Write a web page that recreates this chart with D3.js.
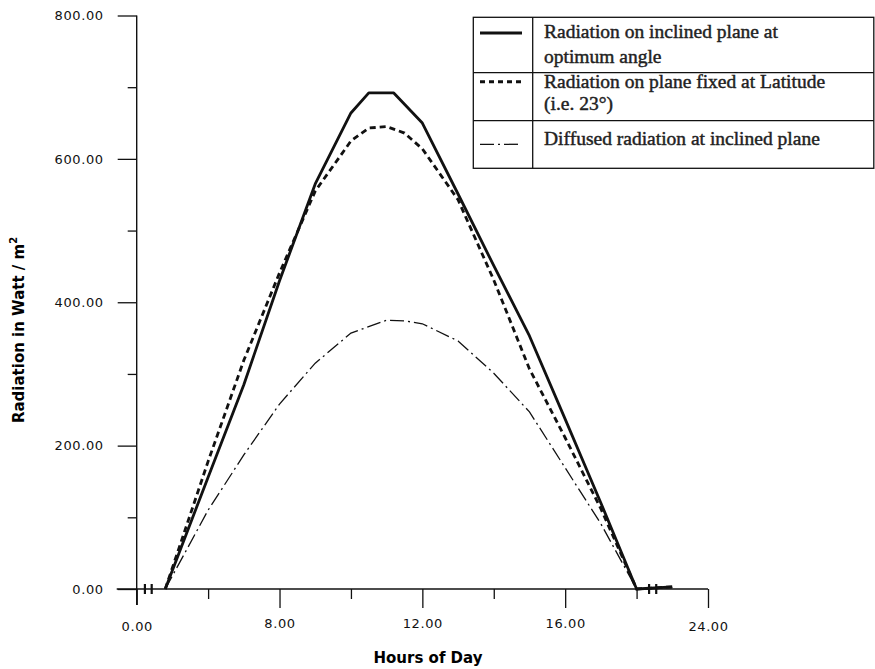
<!DOCTYPE html>
<html>
<head>
<meta charset="utf-8">
<script src="https://cdn.jsdelivr.net/npm/d3@7"></script>
<style>
  body{margin:0;background:#fff;}
  svg{display:block;}
  .tick text{font-family:"DejaVu Sans",sans-serif;font-size:13px;letter-spacing:0.6px;fill:#111;}
</style>
</head>
<body>
<div id="chart"></div>
<script>
"use strict"

// hours on the (broken) time axis, and the three series in W/m2
const hoursOptimum=[4.8,6,7,8,9,10,10.5,11.2,12,13,14,15,16,17,18,19];
const optimumAngle=[0,156,285,430,565,664,692,692,650,551,451,353,237,120,0,3];

const hoursLatitude=[4.8,6,7,8,9,10,10.5,11,11.5,12,13,14,15,16,17,18,19];
const fixedLatitude=[0,178,319,441,555,625,643,645,636,614,543,431,307,211,112,0,3];

const hoursDiffused=[4.8,6,7,8,9,10,11,11.5,12,13,14,15,16,17,18,19];
const diffusedRad=[0,110,187,258,315,357,375,374,370,346,301,247,169,91,0,2];

const xTicks=[4,6,8,10,12,14,16,18,20];
const xTickLabels={4:"0.00",8:"8.00",12:"12.00",16:"16.00",20:"24.00"};
const yTicks=[0,100,200,300,400,500,600,700,800];

const legendRows=[
  {lines:["Radiation on inclined plane at","optimum angle"],dash:null,width:3},
  {lines:["Radiation on plane fixed  at Latitude","(i.e. 23°)"],dash:"5,4",width:3},
  {lines:["Diffused radiation at inclined plane"],dash:"14,4,2,4",width:1.3}
];

const W=875,H=669;
const svg=d3.select("#chart").append("svg").attr("width",W).attr("height",H);

var x=d3.scaleLinear().domain([4,20]).range([136.7,708]);
var y=d3.scaleLinear().domain([0,800]).range([589,15.5]);

// y axis
var yAxis=svg.append("g").attr("transform","translate("+x(4)+",0)")
  .call(d3.axisLeft(y).tickValues(yTicks).tickSizeOuter(0).tickPadding(14)
    .tickFormat(d=>d%200===0?d3.format(".2f")(d):""));
yAxis.select(".domain").remove();
yAxis.selectAll(".tick line").attr("x2",d=>d%200===0?-19:-9).attr("stroke","#111").attr("stroke-width",1.3);
yAxis.selectAll(".tick text").attr("x",-33);

// x axis
var xAxis=svg.append("g").attr("transform","translate(0,"+y(0)+")")
  .call(d3.axisBottom(x).tickValues(xTicks).tickSizeOuter(0)
    .tickFormat(d=>xTickLabels[d]||""));
xAxis.select(".domain").remove();
xAxis.selectAll(".tick line").attr("y2",d=>d===4?16:(d%4===0?19:10)).attr("stroke","#111").attr("stroke-width",1.3);
xAxis.selectAll(".tick text").attr("y",d=>(d===4||d===20)?33:30);

// axis lines, y line runs a bit below zero and x line a bit left of the y axis
svg.append("line").attr("x1",x(4)).attr("x2",x(4)).attr("y1",y(800)).attr("y2",y(0)+16)
  .attr("stroke","#111").attr("stroke-width",1.4);
svg.append("line").attr("x1",x(4)-20).attr("x2",x(20)).attr("y1",y(0)).attr("y2",y(0))
  .attr("stroke","#111").attr("stroke-width",1.4);

// axis break marks
[4.23,4.42,18.35,18.55].forEach(function(h){
  svg.append("line").attr("x1",x(h)).attr("x2",x(h)).attr("y1",y(0)-5).attr("y2",y(0)+5)
    .attr("stroke","#111").attr("stroke-width",2.2);
});

// series
var line=d3.line().x(d=>x(d[0])).y(d=>y(d[1]));

svg.append("path").datum(d3.zip(hoursDiffused,diffusedRad))
  .attr("d",line).attr("fill","none").attr("stroke","#111")
  .attr("stroke-width",1.3).attr("stroke-dasharray","14,4,2,4");

svg.append("path").datum(d3.zip(hoursLatitude,fixedLatitude))
  .attr("d",line).attr("fill","none").attr("stroke","#111")
  .attr("stroke-width",2.8).attr("stroke-dasharray","6,4");

svg.append("path").datum(d3.zip(hoursOptimum,optimumAngle))
  .attr("d",line).attr("fill","none").attr("stroke","#111")
  .attr("stroke-width",2.8).attr("stroke-linejoin","round");

// axis titles
svg.append("text").attr("x",428).attr("y",663).attr("text-anchor","middle")
  .style("font-family","'DejaVu Sans',sans-serif").style("font-weight","bold").style("font-size","15px")
  .text("Hours of Day");

var yt=svg.append("text").attr("transform","translate(24,330) rotate(-90)").attr("text-anchor","middle")
  .style("font-family","'DejaVu Sans',sans-serif").style("font-weight","bold").style("font-size","15px");
yt.append("tspan").text("Radiation in Watt / m");
yt.append("tspan").attr("dy",-7).style("font-size","10px").text("2");

// legend table
var lg=svg.append("g");
var rowTops=[17.3,72.7,120.7,168.3];
lg.append("rect").attr("x",473.3).attr("y",rowTops[0]).attr("width",400.5).attr("height",rowTops[3]-rowTops[0])
  .attr("fill","#fff").attr("stroke","#111").attr("stroke-width",1.3);
lg.append("line").attr("x1",532.7).attr("x2",532.7).attr("y1",rowTops[0]).attr("y2",rowTops[3]).attr("stroke","#111").attr("stroke-width",1.3);
[1,2].forEach(function(i){
  lg.append("line").attr("x1",473.3).attr("x2",873.8).attr("y1",rowTops[i]).attr("y2",rowTops[i]).attr("stroke","#111").attr("stroke-width",1.3);
});
var symY=[33,81.7,144.3];
var textY=[[38,63],[88,110],[145]];
legendRows.forEach(function(r,i){
  lg.append("line").attr("x1",480).attr("x2",522).attr("y1",symY[i]).attr("y2",symY[i])
    .attr("stroke","#111").attr("stroke-width",r.width).attr("stroke-dasharray",r.dash);
  r.lines.forEach(function(t,j){
    lg.append("text").attr("x",544).attr("y",textY[i][j])
      .style("font-family","'Liberation Serif',serif").style("font-size","19.5px")
      .style("fill","#222").style("stroke","#222").style("stroke-width","0.45")
      .text(t);
  });
});
</script>
</body>
</html>
